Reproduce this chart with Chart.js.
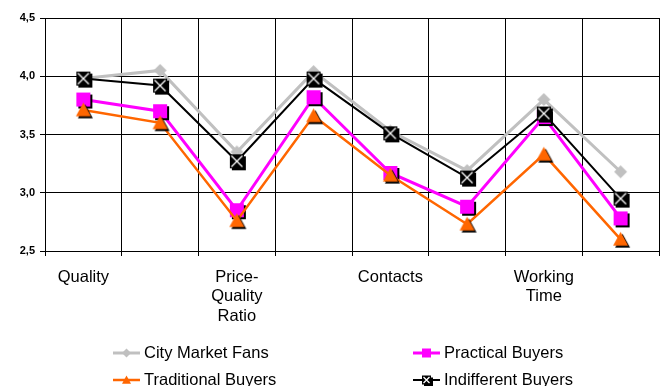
<!DOCTYPE html>
<html>
<head>
<meta charset="utf-8">
<script src="https://cdn.jsdelivr.net/npm/chart.js@4"></script>
<style>
  html, body { margin: 0; padding: 0; background: #fff; }
  canvas { display: block; }
</style>
</head>
<body>
<canvas id="chart" width="669" height="386"></canvas>
<script>
// Survey scores per shopping aspect, by buyer segment
const categories = ['Quality', '', ['Price-', 'Quality', 'Ratio'], '', 'Contacts', '', ['Working', 'Time'], ''];
const cityMarketFans    = [3.98, 4.05, 3.35, 4.04, 3.53, 3.19, 3.80, 3.18];
const practicalBuyers   = [3.80, 3.70, 2.85, 3.82, 3.17, 2.88, 3.65, 2.78];
const traditionalBuyers = [3.71, 3.60, 2.76, 3.66, 3.15, 2.73, 3.33, 2.60];
const indifferentBuyers = [3.98, 3.92, 3.27, 3.98, 3.51, 3.13, 3.68, 2.95];
const yTickValues = [2.5, 3.0, 3.5, 4.0, 4.5];

const FONT = 'Liberation Sans, Arial, sans-serif';

function shapePath(ctx, kind, cx, cy, s) {
  ctx.beginPath();
  if (kind === 'diamond') {
    ctx.moveTo(cx, cy - s / 2);
    ctx.lineTo(cx + s / 2, cy);
    ctx.lineTo(cx, cy + s / 2);
    ctx.lineTo(cx - s / 2, cy);
    ctx.closePath();
  } else if (kind === 'triangle') {
    ctx.moveTo(cx, cy - s * 0.5);
    ctx.lineTo(cx + s / 2, cy + s * 0.42);
    ctx.lineTo(cx - s / 2, cy + s * 0.42);
    ctx.closePath();
  } else {
    ctx.rect(cx - s / 2, cy - s / 2, s, s);
  }
}

// Draws one marker (optionally with a dropped shadow) onto ctx at cx, cy
function paintMarker(ctx, kind, cx, cy, s, color, shadow) {
  if (shadow) {
    shapePath(ctx, kind, cx + 2, cy + 2, s);
    ctx.fillStyle = '#000';
    ctx.fill();
  }
  shapePath(ctx, kind, cx, cy, s);
  ctx.fillStyle = color;
  ctx.fill();
  if (kind === 'xsquare') {
    const h = s / 2 - 1.5;
    ctx.strokeStyle = '#fff';
    ctx.lineWidth = 1.3;
    ctx.beginPath();
    ctx.moveTo(cx - h, cy - h); ctx.lineTo(cx + h, cy + h);
    ctx.moveTo(cx + h, cy - h); ctx.lineTo(cx - h, cy + h);
    ctx.stroke();
  }
}

function markerCanvas(kind, size, color, shadow) {
  const dim = size + 8;
  const cv = document.createElement('canvas');
  cv.width = dim; cv.height = dim;
  paintMarker(cv.getContext('2d'), kind, dim / 2, dim / 2, size, color, shadow);
  return cv;
}

const series = [
  { label: 'City Market Fans',   data: cityMarketFans,    color: '#C0C0C0', kind: 'diamond',  size: 13, width: 3,   shadow: false, order: 4 },
  { label: 'Practical Buyers',   data: practicalBuyers,   color: '#FF00FF', kind: 'square',   size: 14, width: 3,   shadow: true,  order: 3 },
  { label: 'Traditional Buyers', data: traditionalBuyers, color: '#FF6600', kind: 'triangle', size: 15, width: 2.5, shadow: true,  order: 2 },
  { label: 'Indifferent Buyers', data: indifferentBuyers, color: '#000000', kind: 'xsquare',  size: 14, width: 2,   shadow: true,  order: 1 }
];

// Two-column legend under the axis
const legendColumns = [113, 413];
const legendRows = [353, 380];
const twoColumnLegend = {
  id: 'twoColumnLegend',
  afterDraw(chart) {
    const ctx = chart.ctx;
    ctx.save();
    series.forEach((s, i) => {
      const x = legendColumns[i % 2];
      const y = legendRows[Math.floor(i / 2)];
      ctx.strokeStyle = s.color;
      ctx.lineWidth = s.width;
      ctx.beginPath();
      ctx.moveTo(x, y); ctx.lineTo(x + 27, y);
      ctx.stroke();
      paintMarker(ctx, s.kind, x + 13.5, y, s.kind === 'diamond' ? 9 : 9, s.color, s.kind === 'xsquare');
      ctx.fillStyle = '#000';
      ctx.font = '16.5px ' + FONT;
      ctx.textBaseline = 'middle';
      ctx.textAlign = 'left';
      ctx.fillText(s.label, x + 31, y);
    });
    ctx.restore();
  }
};

new Chart(document.getElementById('chart'), {
  type: 'line',
  data: {
    labels: categories,
    datasets: series.map(s => ({
      label: s.label,
      data: s.data,
      borderColor: s.color,
      backgroundColor: s.color,
      borderWidth: s.width,
      tension: 0,
      fill: false,
      order: s.order,
      pointStyle: markerCanvas(s.kind, s.size, s.color, s.shadow),
      pointRadius: 7,
      pointHoverRadius: 7
    }))
  },
  options: {
    responsive: false,
    animation: false,
    devicePixelRatio: 1,
    layout: { padding: { left: 0, top: 18, right: 6, bottom: 0 } },
    plugins: {
      legend: { display: false },
      tooltip: { enabled: false }
    },
    scales: {
      x: {
        type: 'category',
        offset: true,
        grid: { offset: true, color: '#000', lineWidth: 1, tickLength: 5, drawTicks: true },
        border: { color: '#000', width: 1 },
        ticks: {
          autoSkip: false,
          maxRotation: 0,
          color: '#000',
          padding: 11,
          font: { family: FONT, size: 16.5, lineHeight: 1.21 }
        },
        afterFit(scale) { scale.height = 135; }
      },
      y: {
        min: 2.5,
        max: 4.5,
        afterBuildTicks(scale) { scale.ticks = yTickValues.map(v => ({ value: v })); },
        grid: { color: '#000', lineWidth: 1, tickLength: 5 },
        border: { color: '#000', width: 1 },
        ticks: {
          color: '#000',
          padding: 5,
          font: { family: FONT, size: 11, weight: 'bold' },
          callback: v => v.toFixed(1).replace('.', ',')
        },
        afterFit(scale) { scale.width = 45; }
      }
    }
  },
  plugins: [twoColumnLegend]
});
</script>
</body>
</html>
